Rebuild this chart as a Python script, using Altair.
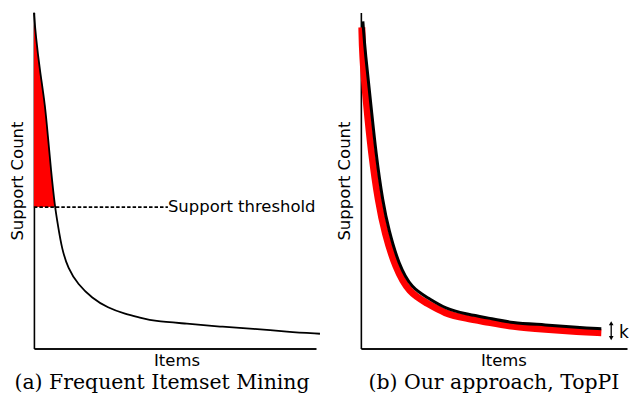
import altair as alt
import pandas as pd

# ---------------- Panel (a): Frequent Itemset Mining ----------------
a_items = [0, 0.71, 2.13, 3.9, 4.96, 6.03, 7.45, 8.5, 9.9, 12.1, 15.6, 20.6, 26.2,
           32.3, 38.3, 42.2, 54.3, 66.0, 77.7, 89.7, 101.4]
a_support = [100, 92.6, 82.6, 72.9, 63.2, 53.2, 42.1, 36.8, 29.7, 23.8, 19.1, 15.0,
             12.1, 10.3, 9.1, 8.2, 7.4, 6.5, 5.9, 5.0, 4.4]
a_fill_items = [0, 0.71, 2.13, 3.9, 4.96, 6.03, 7.45]
a_fill_support = [96.8, 92.6, 82.6, 72.9, 63.2, 53.2, 42.1]
threshold = 42.1
threshold_end = 47.5
threshold_label = "Support threshold"

# ---------------- Panel (b): Our approach, TopPI ----------------
b_black_items = [0.71, 1.59, 3.53, 5.30, 7.77, 9.89, 13.4, 18.0, 24.0, 30.0, 37.1,
                 45.2, 53.4, 65.4, 77.0, 85.2]
b_black_support = [97.4, 87.6, 72.9, 58.2, 43.5, 35.3, 25.0, 17.9, 15.0, 11.8, 10.3,
                   9.1, 7.6, 7.1, 6.2, 5.9]
b_red_items = [0.35, 0.53, 1.94, 3.71, 6.18, 8.48, 12.2, 17.1, 23.5, 29.7, 37.1,
               45.2, 53.4, 65.4, 77.0, 85.2]
b_red_support = [95.6, 87.6, 72.9, 58.2, 43.5, 34.4, 24.1, 16.5, 13.5, 10.4, 9.0,
                 7.8, 6.5, 5.7, 5.0, 4.7]
k_item = 88.7
k_top = 7.5
k_bottom = 3.1
k_label = "k"

SANS = "DejaVu Sans"
SERIF = "DejaVu Serif"
AX_FS = 16.5
CAP_FS = 20.5
PLOT_H = 337


def x_enc(domain_max):
    return alt.X("item:Q",
                 scale=alt.Scale(domain=[0, domain_max], nice=False, zero=False),
                 axis=alt.Axis(title="Items", ticks=False, labels=False, grid=False,
                               domainColor="#111111", domainWidth=2.2,
                               titleX=143, titleAlign="center", titlePadding=4))


def y_enc():
    return alt.Y("support:Q",
                 scale=alt.Scale(domain=[0, 100], nice=False),
                 axis=alt.Axis(title="Support Count", ticks=False, labels=False,
                               grid=False, domainColor="black", domainWidth=1.6,
                               titlePadding=8))


XA = x_enc(100)
XB = x_enc(94.3)
Y = y_enc()

# ---- panel a layers
df_a = pd.DataFrame({"item": a_items, "support": a_support})
df_fill = pd.DataFrame({"item": a_fill_items, "support": a_fill_support,
                        "thr": [threshold] * len(a_fill_items)})
df_thr = pd.DataFrame({"item": [0], "item2": [threshold_end], "support": [threshold]})
df_thr_text = pd.DataFrame({"item": [threshold_end], "support": [threshold],
                            "label": [threshold_label]})

a_fill = alt.Chart(df_fill).mark_area(color="#ff0000", interpolate="linear").encode(
    x=XA, y=Y, y2="thr:Q")
a_curve = alt.Chart(df_a).mark_line(color="black", strokeWidth=1.8,
                                    interpolate="basis").encode(x=XA, y=Y)
a_rule = alt.Chart(df_thr).mark_rule(color="black", strokeWidth=1.8,
                                     strokeDash=[3.5, 2]).encode(
    x=XA, x2="item2:Q", y=Y)
a_text = alt.Chart(df_thr_text).mark_text(align="left", baseline="middle", font=SANS,
                                          fontSize=AX_FS, color="black").encode(
    x=XA, y=Y, text="label:N")

panel_a = alt.layer(a_fill, a_rule, a_curve, a_text).properties(
    width=283, height=PLOT_H,
    title=alt.TitleParams("(a) Frequent Itemset Mining", orient="bottom", font=SERIF,
                          fontSize=CAP_FS, fontWeight="normal", color="black", dx=-13,
                          offset=4))

# ---- panel b layers
df_black = pd.DataFrame({"item": b_black_items, "support": b_black_support})
df_red = pd.DataFrame({"item": b_red_items, "support": b_red_support})
df_k_rule = pd.DataFrame({"item": [k_item], "support": [k_top], "s2": [k_bottom]})
df_k_heads = pd.DataFrame({"item": [k_item, k_item], "support": [k_top, k_bottom],
                           "shape": ["triangle-up", "triangle-down"]})
df_k_text = pd.DataFrame({"item": [91.5], "support": [3.2], "label": [k_label]})

b_red = alt.Chart(df_red).mark_line(color="#ff0000", strokeWidth=7,
                                    interpolate="basis").encode(x=XB, y=Y)
b_black = alt.Chart(df_black).mark_line(color="black", strokeWidth=3,
                                        interpolate="basis").encode(x=XB, y=Y)
b_k_rule = alt.Chart(df_k_rule).mark_rule(color="black", strokeWidth=1.3).encode(
    x=XB, y=Y, y2="s2:Q")
b_k_heads = alt.Chart(df_k_heads).mark_point(filled=True, color="black", size=22,
                                             opacity=1).encode(
    x=XB, y=Y, shape=alt.Shape("shape:N", scale=None, legend=None))
b_k_text = alt.Chart(df_k_text).mark_text(align="left", baseline="alphabetic",
                                          font=SANS, fontSize=17, color="black").encode(
    x=XB, y=Y, text="label:N")

panel_b = alt.layer(b_red, b_black, b_k_rule, b_k_heads, b_k_text).properties(
    width=267, height=PLOT_H,
    title=alt.TitleParams("(b) Our approach, TopPI", orient="bottom", font=SERIF,
                          fontSize=CAP_FS, fontWeight="normal", color="black", dx=0,
                          offset=4))

chart = alt.hconcat(panel_a, panel_b, spacing=45, bounds="flush").properties(
    padding={"left": 2, "top": 0, "right": 0, "bottom": 0},
    background="white"
).configure_view(stroke=None).configure_axis(
    titleFont=SANS, titleFontSize=AX_FS, titleFontWeight="normal", titleColor="black"
)

chart.save("out.html", embed_options={"renderer": "svg", "actions": False})
